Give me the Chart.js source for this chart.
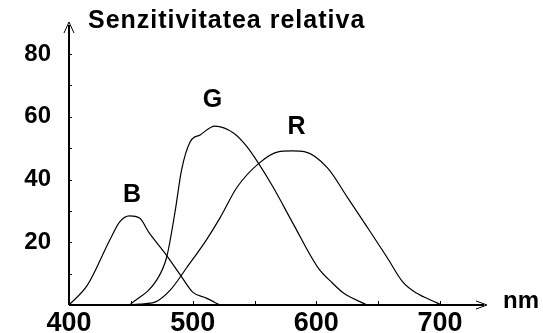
<!DOCTYPE html>
<html>
<head>
<meta charset="utf-8">
<script src="https://cdn.jsdelivr.net/npm/chart.js@4.4.1/dist/chart.umd.min.js"></script>
<style>
  html, body { margin: 0; padding: 0; background: #fff; }
  #wrap { width: 543px; height: 333px; }
</style>
</head>
<body>
<div id="wrap"><canvas id="myChart" width="543" height="333"></canvas></div>
<script>
// wavelength (nm) / relative sensitivity for each cone type
var blueNm  = [400, 415, 433, 441, 449, 457, 465, 478, 490, 500, 511, 522];
var blueVal = [0, 6.4, 20.7, 26.5, 28.4, 27.7, 22.9, 16.3, 9.6, 4.1, 2.2, 0];

var greenNm  = [449, 471, 479, 486, 491, 498, 506, 518, 533, 544, 553, 565, 581, 601, 613, 622, 641];
var greenVal = [0, 8, 15.3, 30.3, 43, 52, 54.2, 57, 54.8, 50.4, 45.3, 37.6, 26.1, 12.1, 7, 3.8, 0];

var redNm  = [449, 457, 470, 482, 495, 511, 522, 536, 554, 569, 580, 591, 609, 625, 641, 657, 670, 681, 698, 701];
var redVal = [0, 0.3, 1, 4.8, 11.8, 20.7, 27.7, 37.6, 45.3, 48.8, 49.1, 48.8, 43.7, 34.4, 24.9, 15.3, 7.3, 3.8, 0.6, 0];

// curve names and where they sit (nm, value)
var curveNames = ['B', 'G', 'R'];
var nameNm  = [451, 516, 584];
var nameVal = [35, 65.3, 56.6];

var xTickLabels = [400, 500, 600, 700];
var yTickLabels = [20, 40, 60, 80];

var titleText = 'Senzitivitatea relativa';
var unitText = 'nm';

function toPoints(xs, ys) {
  var pts = [];
  for (var i = 0; i < xs.length; i++) {
    pts.push({ x: xs[i], y: ys[i] });
  }
  return pts;
}

function curve(xs, ys) {
  return {
    data: toPoints(xs, ys),
    borderColor: '#000',
    borderWidth: 1.2,
    pointRadius: 0,
    fill: false,
    cubicInterpolationMode: 'monotone'
  };
}

// keep the plot box fixed: no extra room for the edge labels
function noEdgePadding(scale) {
  scale.paddingTop = 0;
  scale.paddingBottom = 0;
  scale.paddingLeft = 0;
  scale.paddingRight = 0;
}

// axes with arrows, small tick marks, title and curve names
var decorations = {
  id: 'decorations',
  afterDatasetsDraw: function(chart) {
    var ctx = chart.ctx;
    var xs = chart.scales.x;
    var ys = chart.scales.y;
    var x0 = xs.getPixelForValue(400);
    var y0 = ys.getPixelForValue(0);
    var xEnd = xs.right;
    var yTop = ys.top;

    ctx.save();
    ctx.strokeStyle = '#000';
    ctx.lineWidth = 2;
    ctx.beginPath();
    ctx.moveTo(x0, y0);
    ctx.lineTo(x0, yTop + 3);
    ctx.moveTo(x0, y0);
    ctx.lineTo(xEnd - 3, y0);
    ctx.stroke();

    ctx.lineWidth = 1;
    ctx.beginPath();
    ctx.moveTo(x0 - 5, yTop + 11);
    ctx.lineTo(x0, yTop);
    ctx.lineTo(x0 + 5, yTop + 11);
    ctx.stroke();
    ctx.beginPath();
    ctx.moveTo(xEnd - 11, y0 - 4);
    ctx.lineTo(xEnd, y0);
    ctx.lineTo(xEnd - 11, y0 + 4);
    ctx.stroke();

    // minor tick marks
    ctx.lineWidth = 1;
    ctx.beginPath();
    for (var v = 10; v <= 80; v += 10) {
      var py = Math.round(ys.getPixelForValue(v)) + 0.5;
      ctx.moveTo(x0, py);
      ctx.lineTo(x0 + 3, py);
    }
    for (var w = 450; w <= 700; w += 50) {
      var px = Math.round(xs.getPixelForValue(w)) + 0.5;
      ctx.moveTo(px, y0);
      ctx.lineTo(px, y0 - 4);
    }
    ctx.stroke();

    ctx.fillStyle = '#000';
    ctx.textBaseline = 'alphabetic';
    ctx.textAlign = 'left';
    ctx.font = 'bold 25px "Liberation Sans", Arial, sans-serif';
    ctx.letterSpacing = '1px';
    ctx.fillText(titleText, 88, 28);

    ctx.letterSpacing = '0px';
    ctx.font = 'bold 24px "Liberation Sans", Arial, sans-serif';
    ctx.textBaseline = 'middle';
    ctx.fillText(unitText, xEnd + 16, y0 - 4);

    ctx.font = 'bold 25px "Liberation Sans", Arial, sans-serif';
    ctx.textAlign = 'center';
    for (var i = 0; i < curveNames.length; i++) {
      ctx.fillText(curveNames[i], xs.getPixelForValue(nameNm[i]), ys.getPixelForValue(nameVal[i]));
    }
    ctx.restore();
  }
};

var ctx = document.getElementById('myChart').getContext('2d');
var myChart = new Chart(ctx, {
  type: 'line',
  data: {
    datasets: [
      curve(blueNm, blueVal),
      curve(greenNm, greenVal),
      curve(redNm, redVal)
    ]
  },
  options: {
    responsive: false,
    animation: false,
    devicePixelRatio: 1,
    layout: { padding: { left: 0, right: 56, top: 22, bottom: 0 } },
    plugins: {
      legend: { display: false },
      tooltip: { enabled: false }
    },
    scales: {
      x: {
        type: 'linear',
        min: 400,
        max: 738,
        afterFit: function(scale) { scale.height = 28; noEdgePadding(scale); },
        border: { display: false },
        grid: { display: false, drawTicks: false },
        ticks: {
          stepSize: 50,
          includeBounds: false,
          padding: 2,
          autoSkip: false,
          maxRotation: 0,
          color: '#000',
          font: { family: '"Liberation Sans", Arial, sans-serif', size: 27, weight: 'bold' },
          callback: function(value) {
            return xTickLabels.indexOf(value) >= 0 ? String(value) : '';
          }
        }
      },
      y: {
        type: 'linear',
        min: 0,
        max: 90.2,
        afterFit: function(scale) { scale.width = 69; noEdgePadding(scale); },
        border: { display: false },
        grid: { display: false, drawTicks: false },
        ticks: {
          stepSize: 10,
          includeBounds: false,
          padding: 18,
          autoSkip: false,
          color: '#000',
          font: { family: '"Liberation Sans", Arial, sans-serif', size: 24, weight: 'bold' },
          callback: function(value) {
            return yTickLabels.indexOf(value) >= 0 ? String(value) : '';
          }
        }
      }
    }
  },
  plugins: [decorations]
});
</script>
</body>
</html>
